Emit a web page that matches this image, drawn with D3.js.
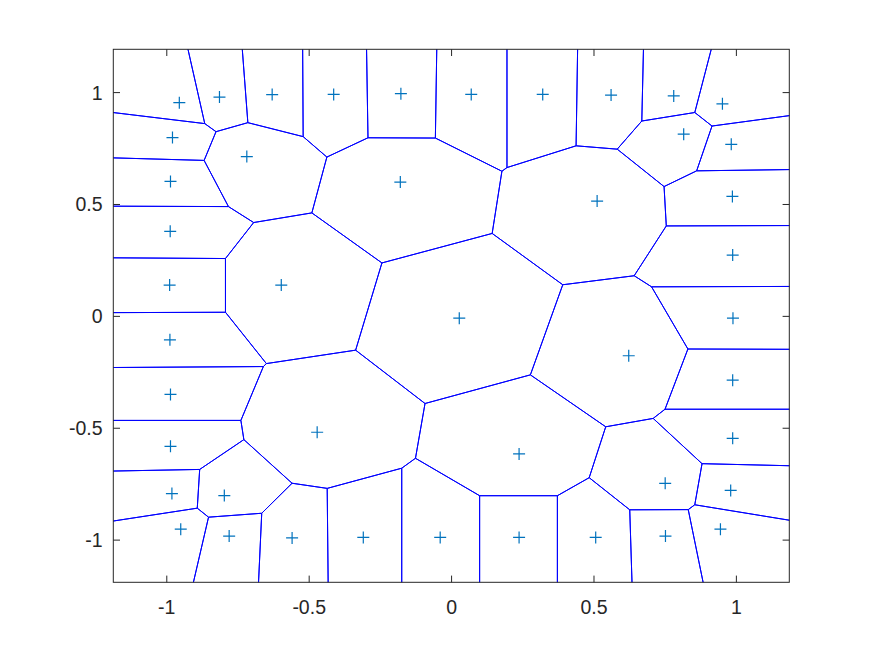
<!DOCTYPE html>
<html>
<head>
<meta charset="utf-8">
<script src="https://cdn.jsdelivr.net/npm/d3@7"></script>
<style>
  html, body { margin: 0; padding: 0; background: #fff; }
  svg { display: block; }
</style>
</head>
<body>
<svg id="chart" width="872" height="654"></svg>
<script>
// Generator points (data coordinates)
const xs = [
  -0.956, -0.815, -0.630, -0.414, -0.178, 0.069, 0.320, 0.560, 0.780, 0.951,
  -0.980, -0.987, -0.988, -0.719, -0.180, 0.815, 0.982, 0.511, 0.986,
  -0.990, -0.598, -0.989, -0.987,
  0.027, 0.987, 0.988, 0.622, 0.987,
  -0.987, -0.472, -0.982, -0.798, -0.951, -0.781, -0.560, -0.310, -0.040,
  0.237, 0.237, 0.506, 0.750, 0.751, 0.987, 0.980, 0.944
];
const ys = [
  0.955, 0.980, 0.991, 0.992, 0.995, 0.992, 0.992, 0.989, 0.985, 0.950,
  0.799, 0.603, 0.380, 0.714, 0.600, 0.814, 0.769, 0.515, 0.536,
  0.140, 0.140, -0.105, -0.349,
  -0.008, 0.274, -0.008, -0.176, -0.285,
  -0.581, -0.518, -0.792, -0.801, -0.951, -0.982, -0.990, -0.988, -0.988,
  -0.615, -0.988, -0.988, -0.746, -0.982, -0.545, -0.778, -0.951
];
const xTicks = [-1, -0.5, 0, 0.5, 1];
const yTicks = [-1, -0.5, 0, 0.5, 1];
const xTickLabels = ["-1", "-0.5", "0", "0.5", "1"];
const yTickLabels = ["-1", "-0.5", "0", "0.5", "1"];

const pLeft = 113.3, pRight = 789.3, pTop = 49.3, pBottom = 582.3;
const tickLen = 6.7;
const axisColor = "#262626";

const xmin = d3.min(xs), xmax = d3.max(xs), ymin = d3.min(ys), ymax = d3.max(ys);
const dx = xmax - xmin, dy = ymax - ymin;
const x = d3.scaleLinear().domain([xmin - 0.1 * dx, xmax + 0.1 * dx]).range([pLeft, pRight]);
const y = d3.scaleLinear().domain([ymin - 0.1 * dy, ymax + 0.1 * dy]).range([pBottom, pTop]);

const svg = d3.select("#chart");
svg.append("defs").append("clipPath").attr("id", "clip")
  .append("rect").attr("x", pLeft).attr("y", pTop)
  .attr("width", pRight - pLeft).attr("height", pBottom - pTop);

const pts = xs.map((v, i) => [v, ys[i]]);
const delaunay = d3.Delaunay.from(pts);
const vor = delaunay.voronoi([-20, -20, 20, 20]);

const g = svg.append("g").attr("clip-path", "url(#clip)");
const line = d3.line().x(d => x(d[0])).y(d => y(d[1]));
for (let i = 0; i < pts.length; i++) {
  const poly = vor.cellPolygon(i);
  if (!poly) continue;
  g.append("path")
    .attr("d", line(poly))
    .attr("fill", "none")
    .attr("stroke", "#0000FF")
    .attr("stroke-width", 1)
    .attr("stroke-linejoin", "round");
}

// markers '+'
const ms = 6;
const mg = svg.append("g");
pts.forEach(p => {
  const cx = x(p[0]), cy = y(p[1]);
  mg.append("path")
    .attr("d", `M${cx - ms},${cy}H${cx + ms}M${cx},${cy - ms}V${cy + ms}`)
    .attr("stroke", "#0072BD")
    .attr("stroke-width", 1.2)
    .attr("fill", "none");
});

// axes box
svg.append("rect").attr("x", pLeft).attr("y", pTop)
  .attr("width", pRight - pLeft).attr("height", pBottom - pTop)
  .attr("fill", "none").attr("stroke", axisColor).attr("stroke-width", 1);

const ax = svg.append("g");
const fontSize = 19.5;
xTicks.forEach((t, i) => {
  const px = x(t);
  ax.append("line").attr("x1", px).attr("x2", px).attr("y1", pBottom).attr("y2", pBottom - tickLen)
    .attr("stroke", axisColor);
  ax.append("line").attr("x1", px).attr("x2", px).attr("y1", pTop).attr("y2", pTop + tickLen)
    .attr("stroke", axisColor);
  ax.append("text").attr("x", px).attr("y", 607)
    .attr("text-anchor", "middle").attr("dominant-baseline", "central")
    .attr("font-family", "Liberation Sans, Arial, sans-serif").attr("font-size", fontSize)
    .attr("fill", axisColor).text(xTickLabels[i]);
});
yTicks.forEach((t, i) => {
  const py = y(t);
  ax.append("line").attr("x1", pLeft).attr("x2", pLeft + tickLen).attr("y1", py).attr("y2", py)
    .attr("stroke", axisColor);
  ax.append("line").attr("x1", pRight).attr("x2", pRight - tickLen).attr("y1", py).attr("y2", py)
    .attr("stroke", axisColor);
  ax.append("text").attr("x", 102.5).attr("y", py)
    .attr("text-anchor", "end").attr("dominant-baseline", "central")
    .attr("font-family", "Liberation Sans, Arial, sans-serif").attr("font-size", fontSize)
    .attr("fill", axisColor).text(yTickLabels[i]);
});
</script>
</body>
</html>
